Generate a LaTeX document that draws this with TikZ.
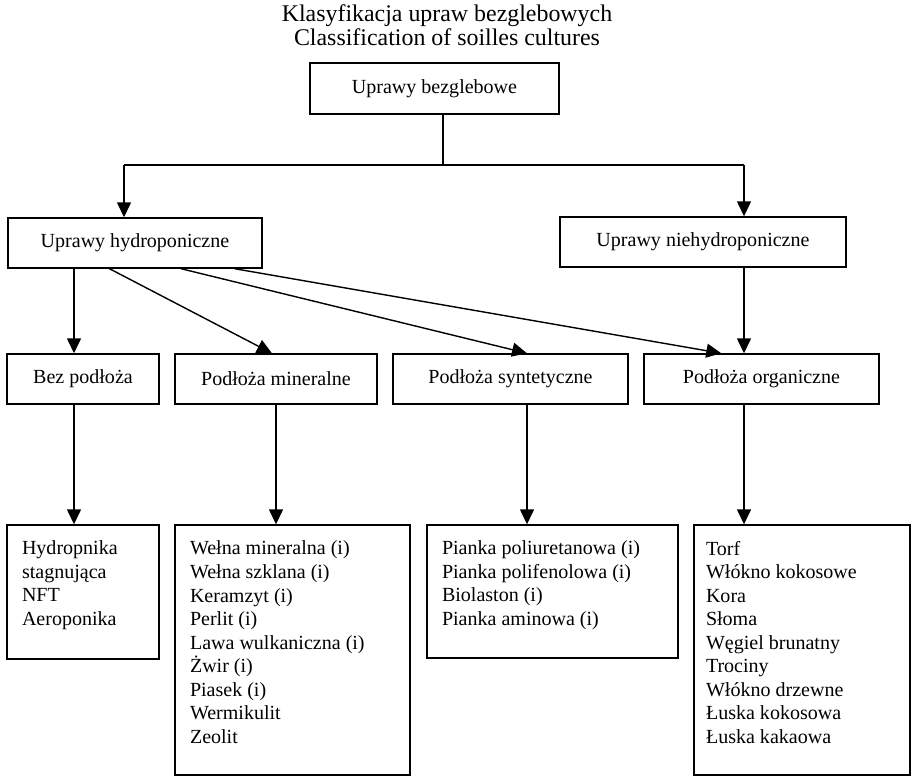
\documentclass[tikz,border=0pt]{standalone}
\usepackage{fontspec}
\setmainfont{Liberation Serif}
\usetikzlibrary{arrows.meta,calc}

\newcommand{\itemlist}[1]{\begin{minipage}[t]{4cm}\raggedright #1\end{minipage}}
\newcommand{\titleblock}[1]{\begin{minipage}{9cm}\lineskiplimit=-10pt\centering #1\end{minipage}}

\begin{document}
\begin{tikzpicture}[x=0.02cm, y=-0.02cm, line width=0.8pt, font=\fontsize{11.4}{13.4}\selectfont]
    \tikzstyle{box} = [draw, rectangle, inner sep=0pt, minimum height=1cm]
    \tikzstyle{listbox} = [draw, rectangle, inner sep=0pt]
    \tikzstyle{items} = [anchor=north west, inner sep=0pt, xshift=0.3cm, yshift=-0.32cm]
    \tikzstyle{arr} = [-{Triangle[length=0.3cm,width=0.28cm]}]
    \useasboundingbox (0,0) rectangle (916,776);

    % tytul
    \node[inner sep=0pt, font=\fontsize{13.6}{13.4}\selectfont] (title) at (447,25) {\titleblock{Klasyfikacja upraw bezglebowych\\Classification of soilles cultures}};

    % poziomy klasyfikacji
    \node[box, minimum width=4.98cm, minimum height=1.02cm] (top) at (434.5,88.5) {Uprawy bezglebowe};
    \node[box, minimum width=5.08cm] (hydro) at (135,243) {Uprawy hydroponiczne};
    \node[box, minimum width=5.72cm] (niehydro) at (703,242) {Uprawy niehydroponiczne};
    \node[box, minimum width=3.04cm] (bez) at (83,379) {Bez podłoża};
    \node[box, minimum width=4.04cm] (mineral) at (276,379) {Podłoża mineralne};
    \node[box, minimum width=4.70cm] (synt) at (510.5,379) {Podłoża syntetyczne};
    \node[box, minimum width=4.70cm] (organ) at (761.5,379) {Podłoża organiczne};

    % listy podlozy
    \node[listbox, minimum width=3.04cm, minimum height=2.68cm] (bezL) at (83,592) {};
    \node[listbox, minimum width=4.70cm, minimum height=5.0cm] (minL) at (292.5,650) {};
    \node[listbox, minimum width=5.02cm, minimum height=2.66cm] (syntL) at (552.5,591.5) {};
    \node[listbox, minimum width=4.32cm, minimum height=5.0cm] (orgL) at (802,650) {};

    \node[items] (bezT) at (bezL.north west) {\itemlist{Hydropnika\\stagnująca\\NFT\\Aeroponika}};
    \node[items] (minT) at (minL.north west) {\itemlist{Wełna mineralna (i)\\Wełna szklana (i)\\Keramzyt (i)\\Perlit (i)\\Lawa wulkaniczna (i)\\Żwir (i)\\Piasek (i)\\Wermikulit\\Zeolit}};
    \node[items] (syntT) at (syntL.north west) {\itemlist{Pianka poliuretanowa (i)\\Pianka polifenolowa (i)\\Biolaston (i)\\Pianka aminowa (i)}};
    \node[items, xshift=-0.06cm] (orgT) at (orgL.north west) {\itemlist{Torf\\Włókno kokosowe\\Kora\\Słoma\\Węgiel brunatny\\Trociny\\Włókno drzewne\\Łuska kokosowa\\Łuska kakaowa}};

    % rozgalezienie
    \coordinate (split) at (443,165);
    \coordinate (jl) at (124,165);
    \coordinate (jr) at (744,165);
    \coordinate (col1) at (74,0);
    \coordinate (col2) at (276,0);
    \coordinate (col3) at (527,0);
    \draw (top.south -| split) -- (split);
    \draw (jl) -- (jr);
    \draw[arr] (jl) -- (jl |- hydro.north);
    \draw[arr] (jr) -- (jr |- niehydro.north);

    % strzalki do podlozy
    \draw[arr] (hydro.south -| col1) -- (bez.north -| col1);
    \draw[arr] ($(hydro.south west)!0.40!(hydro.south east)$) -- ($(mineral.north west)!0.48!(mineral.north east)$);
    \draw[arr] ($(hydro.south west)!0.68!(hydro.south east)$) -- ($(synt.north west)!0.57!(synt.north east)$);
    \draw[arr] ($(hydro.south west)!0.89!(hydro.south east)$) -- ($(organ.north west)!0.33!(organ.north east)$);
    \draw[arr] (niehydro.south -| jr) -- (organ.north -| jr);

    % strzalki do list
    \draw[arr] (bez.south -| col1) -- (bezL.north -| col1);
    \draw[arr] (mineral.south -| col2) -- (minL.north -| col2);
    \draw[arr] (synt.south -| col3) -- (syntL.north -| col3);
    \draw[arr] (organ.south -| jr) -- (orgL.north -| jr);
\end{tikzpicture}
\end{document}
